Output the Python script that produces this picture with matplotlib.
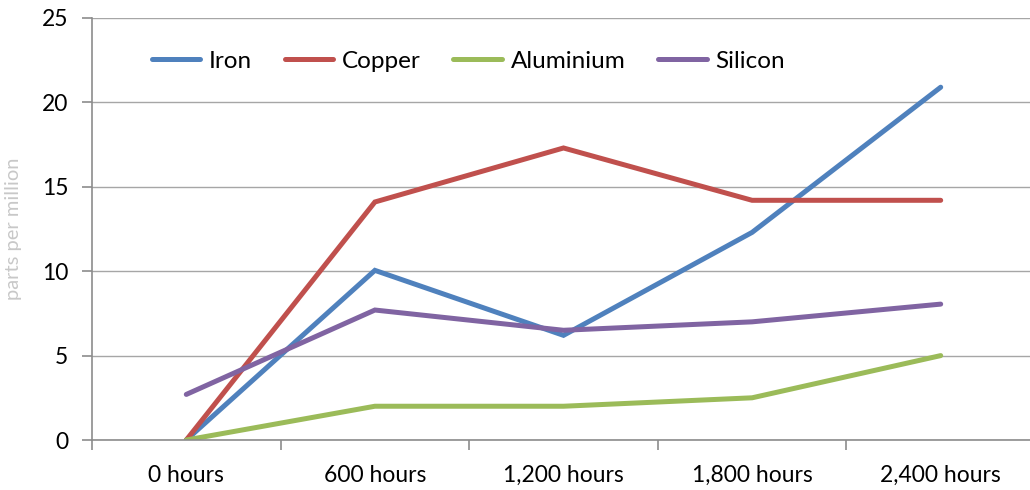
import matplotlib
matplotlib.use("Agg")
import matplotlib.pyplot as plt

plt.rcParams["font.family"] = ["Lato", "DejaVu Sans"]

categories = ["0 hours", "600 hours", "1,200 hours", "1,800 hours", "2,400 hours"]
iron = [0, 10.05, 6.2, 12.3, 20.9]
copper = [0, 14.1, 17.3, 14.2, 14.2]
aluminium = [0, 2.0, 2.0, 2.5, 5.0]
silicon = [2.7, 7.7, 6.5, 7.0, 8.05]

series = [
	("Iron", iron, "#4F81BD"),
	("Copper", copper, "#C0504D"),
	("Aluminium", aluminium, "#9BBB59"),
	("Silicon", silicon, "#8064A2"),
]

fig = plt.figure(figsize=(10.3, 4.9), dpi=100)
ax = fig.add_axes([92 / 1030, 50 / 490, (1035 - 92) / 1030, (440 - 18) / 490])

x = list(range(len(categories)))
for name, vals, col in series:
	ax.plot(x, vals, color=col, linewidth=3.6, label=name, solid_capstyle="round", solid_joinstyle="miter")

ax.set_xlim(-0.5, len(categories) - 0.5)
ax.set_ylim(0, 25)
ax.set_yticks([0, 5, 10, 15, 20, 25])
ax.set_xticks(x)
ax.set_xticklabels(categories)
ax.set_xticks([i - 0.5 for i in range(len(categories) + 1)], minor=True)

gray = "#8c8c8c"
ax.yaxis.grid(True, color="#a6a6a6", linewidth=1)
ax.set_axisbelow(True)
for s in ["top", "right"]:
	ax.spines[s].set_visible(False)
ax.spines["left"].set_color(gray)
ax.spines["bottom"].set_color(gray)
ax.spines["left"].set_linewidth(1.2)
ax.spines["bottom"].set_linewidth(1.2)

ax.tick_params(axis="y", length=7, width=1.2, color=gray, labelsize=16.5, pad=10)
ax.tick_params(axis="x", which="major", length=0, labelsize=16.5, pad=18)
ax.tick_params(axis="x", which="minor", length=7, width=1.2, color=gray)

ax.set_ylabel("parts per million", color="#c8c8c8", fontsize=14.5, labelpad=14)

ax.legend(loc="center left", bbox_to_anchor=(0.04, 0.898), ncol=4, frameon=False,
	fontsize=17.5, handlelength=2.0, handletextpad=0.35, columnspacing=1.35)

fig.savefig("out.png", dpi=100)
